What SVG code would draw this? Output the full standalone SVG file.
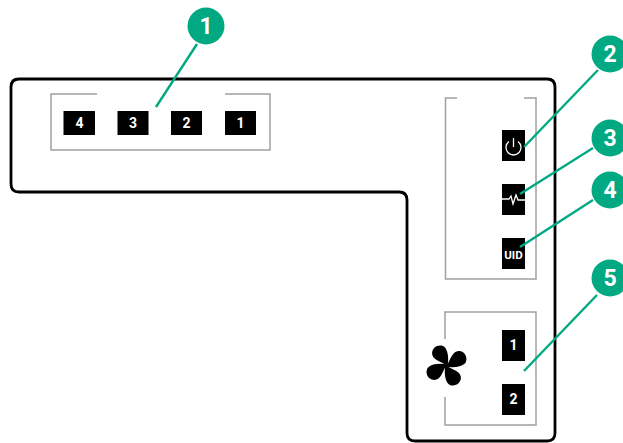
<svg xmlns="http://www.w3.org/2000/svg" xmlns:xlink="http://www.w3.org/1999/xlink" width="623" height="443" viewBox="0 0 623 443">
<style>
text{font-family:"Roboto","Liberation Sans",sans-serif;text-anchor:middle}
.outline{fill:none;stroke:#000;stroke-width:2.8}
.panel{fill:none;stroke:#a0a0a0;stroke-width:1.5}
.led{fill:#000}
.ledt{fill:#fff;font-size:14px;font-weight:700}
.icon{fill:none;stroke:#fff;stroke-width:1.3}
.call{fill:#01a982}
.callt{fill:#fff;font-size:23px;font-weight:700}
.conn{stroke:#01a982;stroke-width:2.4;fill:none}
</style>
<defs>
<path id="blade" d="M1,1C-2,-3 -12,-4 -13,-10C-14,-17 -6,-20 -2,-17C2,-13 2,-5 1,1Z" fill="#000"/>
</defs>
<rect width="623" height="443" fill="#fff"/>
<g id="chassis">
<path class="outline" d="M19,79H547Q555,79 555,87V433Q555,441 547,441H415Q407,441 407,433V200Q407,192 399,192H19Q11,192 11,184V87Q11,79 19,79Z"/>
</g>
<g id="drive-panel">
<path class="panel" d="M97,94H51V150H270V94H225"/>
<rect class="led" x="63.500" y="111" width="31.500" height="24"/><text class="ledt" x="79.500" y="128">4</text>
<rect class="led" x="117.500" y="111" width="31" height="24"/><text class="ledt" x="133" y="128">3</text>
<rect class="led" x="171" y="111" width="31" height="24"/><text class="ledt" x="186.500" y="128">2</text>
<rect class="led" x="225" y="111" width="31" height="24"/><text class="ledt" x="240.500" y="128">1</text>
</g>
<g id="status-panel">
<path class="panel" d="M457,98H445.500V279H536V98H524"/>
<rect class="led" x="502" y="130" width="23" height="31"/>
<path class="icon" d="M513.500,138V147M509,141.500A7.500,7.500 0 1 0 518,141.500"/>
<rect class="led" x="502" y="184" width="23" height="31"/>
<path class="icon" d="M502,199H509L511,196L513,204L516,195L518,200H525"/>
<rect class="led" x="502" y="238" width="23" height="31"/>
<text x="513.500" y="259" fill="#fff" font-size="11.500" font-weight="700">UID</text>
</g>
<g id="fan-panel">
<path class="panel" d="M445,339V312H536V425H445V397"/>
<rect class="led" x="502" y="330" width="23" height="31"/><text class="ledt" x="513.500" y="350">1</text>
<rect class="led" x="502" y="384" width="23" height="31"/><text class="ledt" x="513.500" y="404">2</text>
<g transform="translate(446.500 365.500) scale(1.1)">
<use xlink:href="#blade" href="#blade"/>
<use xlink:href="#blade" href="#blade" transform="rotate(90)"/>
<use xlink:href="#blade" href="#blade" transform="rotate(180)"/>
<use xlink:href="#blade" href="#blade" transform="rotate(270)"/>
</g>
</g>
<g id="connectors">
<path class="conn" d="M197,44L156,107"/>
<path class="conn" d="M598,70L524,147"/>
<path class="conn" d="M593,148L520,194"/>
<path class="conn" d="M593,200L520,247"/>
<path class="conn" d="M597,295L524,371"/>
</g>
<g id="callout-1"><circle class="call" cx="206" cy="26" r="18.500"/><text class="callt" x="206" y="34">1</text></g>
<g id="callout-2"><circle class="call" cx="610" cy="54" r="18.500"/><text class="callt" x="610" y="62">2</text></g>
<g id="callout-3"><circle class="call" cx="610" cy="138" r="18.500"/><text class="callt" x="610" y="146">3</text></g>
<g id="callout-4"><circle class="call" cx="610" cy="190" r="18.500"/><text class="callt" x="610" y="198">4</text></g>
<g id="callout-5"><circle class="call" cx="610" cy="278" r="18.500"/><text class="callt" x="610" y="286">5</text></g>
</svg>
